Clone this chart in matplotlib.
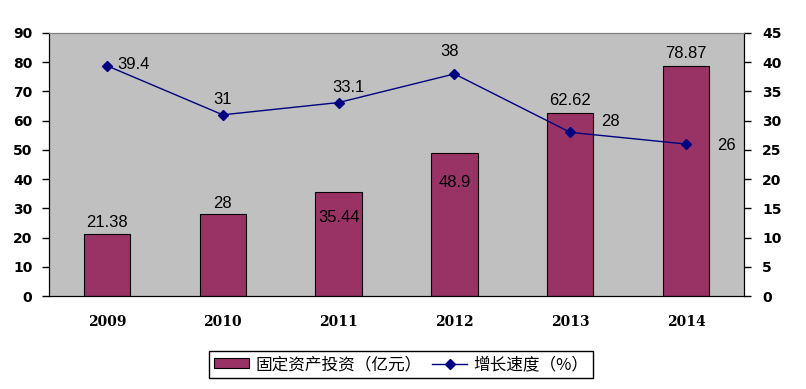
import matplotlib
matplotlib.use("Agg")
import matplotlib.pyplot as plt
from matplotlib.patches import Patch
from matplotlib.lines import Line2D

years = ["2009", "2010", "2011", "2012", "2013", "2014"]
investment = [21.38, 28, 35.44, 48.9, 62.62, 78.87]
growth = [39.4, 31, 33.1, 38, 28, 26]
inv_labels = ["21.38", "28", "35.44", "48.9", "62.62", "78.87"]
growth_labels = ["39.4", "31", "33.1", "38", "28", "26"]
left_ticks = [0, 10, 20, 30, 40, 50, 60, 70, 80, 90]
right_ticks = [0, 5, 10, 15, 20, 25, 30, 35, 40, 45]

plt.rcParams['font.family'] = ['Liberation Sans', 'DejaVu Sans']

fig = plt.figure(figsize=(8.06, 3.89), dpi=100)
ax = fig.add_axes([49/806, 1-296/389, (744-49)/806, (296-33)/389])
ax.set_facecolor('#c0c0c0')
x = list(range(len(years)))
ax.bar(x, investment, width=0.4, color='#993366', edgecolor='black', linewidth=0.8, zorder=2)
ax.set_xlim(-0.5, 5.5)
ax.set_ylim(0, 90)
ax.set_yticks(left_ticks)
ax.set_xticks(x)
ax.set_xticklabels(years, fontfamily='DejaVu Serif', fontweight='bold', fontsize=10)
ax.tick_params(axis='x', length=0, pad=14)
ax.tick_params(axis='y', direction='out', length=5, width=1, pad=7)
for lab in ax.get_yticklabels():
    lab.set_fontweight('bold'); lab.set_fontsize(10); lab.set_fontfamily('DejaVu Sans')

ax2 = ax.twinx()
ax2.set_ylim(0, 45)
ax2.set_yticks(right_ticks)
ax2.tick_params(axis='y', direction='out', length=5, width=1, pad=8)
for lab in ax2.get_yticklabels():
    lab.set_fontweight('bold'); lab.set_fontsize(10); lab.set_fontfamily('DejaVu Sans')
ax2.plot(x, growth, color='#000080', linewidth=1, marker='D', markersize=5, zorder=3)

for a in (ax, ax2):
    a.spines['top'].set_color('#808080')
    a.spines['left'].set_color('black')
    a.spines['right'].set_color('black')
    a.spines['bottom'].set_color('black')

# bar labels (offsets in pixels)
bar_offsets = [(0, 11), (0, 11), (0, -25), (0, -29), (0, 13), (0, 12)]
for xi, v, s, off in zip(x, investment, inv_labels, bar_offsets):
    ax.annotate(s, (xi, v), xytext=off, textcoords='offset pixels', ha='center', va='center',
                fontsize=12, color='black', zorder=5)

line_offsets = [(27, 1), (0, 15), (10, 15), (-5, 22), (40, 11), (40, -1)]
for xi, v, s, off in zip(x, growth, growth_labels, line_offsets):
    ax2.annotate(s, (xi, v), xytext=off, textcoords='offset pixels', ha='center', va='center',
                 fontsize=12, color='black', zorder=5)

handles = [Patch(facecolor='#993366', edgecolor='black', linewidth=0.8),
           Line2D([0], [0], color='#000080', linewidth=1, marker='D', markersize=5)]
leg = fig.legend(handles, ['固定资产投资（亿元）', '增长速度（%）'], ncol=2,
                 loc='center', bbox_to_anchor=(401/806, 1-364.5/389),
                 prop={'family': ['Noto Sans CJK SC', 'DejaVu Sans'], 'size': 12},
                 frameon=True, fancybox=False, edgecolor='black', framealpha=1,
                 handlelength=2.15, handleheight=0.5, handletextpad=0.36, columnspacing=0.6,
                 borderpad=0.3, borderaxespad=0)
leg.get_frame().set_linewidth(1)

fig.savefig('out.png', dpi=100)
